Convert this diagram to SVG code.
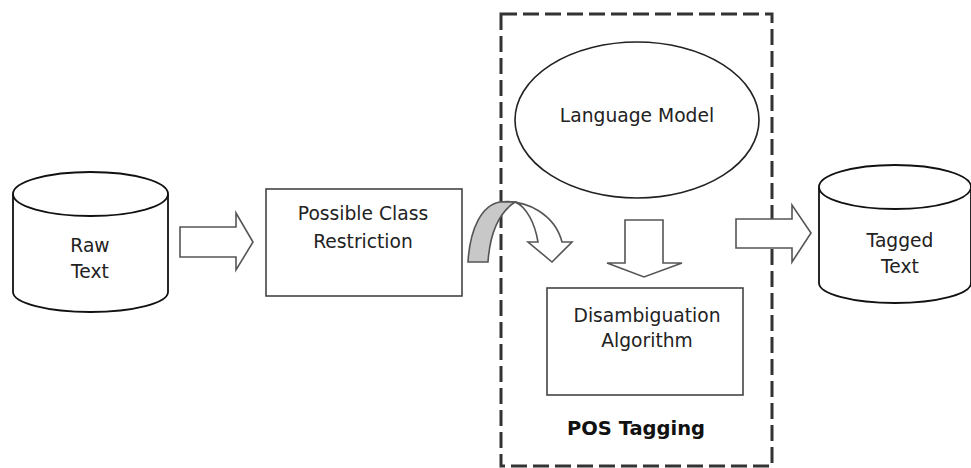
<svg xmlns="http://www.w3.org/2000/svg" width="971" height="468" viewBox="0 0 971 468">
  <style>
    .lbl { font-family: "DejaVu Sans", Verdana, sans-serif; font-size: 18.7px; fill: #222; text-anchor: middle; }
    .bold { font-weight: bold; font-size: 19.5px; fill: #111; }
    .box { fill: #fff; stroke: #444; stroke-width: 1.6; }
    .cyl { fill: #fff; stroke: #111; stroke-width: 1.8; }
    .blockarrow { fill: #fff; stroke: #555; stroke-width: 1.6; stroke-linejoin: miter; }
    .frame { fill: none; stroke: #333; stroke-width: 3; stroke-dasharray: 16 6; }
  </style>
  <rect width="971" height="468" fill="#fff"/>

  <!-- POS tagging stage boundary -->
  <g id="pos-tagging">
    <rect class="frame" x="501" y="14" width="271" height="452"/>
    <text class="lbl bold" x="636" y="435">POS Tagging</text>
  </g>

  <!-- raw input store -->
  <g id="raw-text">
    <path class="cyl" d="M13,194 L13,292 A77.5,20 0 0 0 168,292 L168,194"/>
    <ellipse class="cyl" cx="90.5" cy="194" rx="77.5" ry="22"/>
    <text class="lbl" x="90" y="252">Raw</text>
    <text class="lbl" x="90" y="278">Text</text>
  </g>

  <g id="possible-class-restriction">
    <rect class="box" x="266" y="189" width="196" height="107"/>
    <text class="lbl" x="363" y="220">Possible Class</text>
    <text class="lbl" x="363" y="248">Restriction</text>
  </g>

  <g id="language-model">
    <ellipse cx="637" cy="120" rx="122" ry="78" fill="#fff" stroke="#222" stroke-width="1.6"/>
    <text class="lbl" x="637" y="122">Language Model</text>
  </g>

  <g id="disambiguation-algorithm">
    <rect class="box" x="547" y="288" width="196" height="107"/>
    <text class="lbl" x="647" y="322">Disambiguation</text>
    <text class="lbl" x="647" y="347">Algorithm</text>
  </g>

  <!-- tagged output store -->
  <g id="tagged-text">
    <path class="cyl" d="M819,187 L819,283 A76,20 0 0 0 971,283 L971,187"/>
    <ellipse class="cyl" cx="895" cy="187" rx="76" ry="22"/>
    <text class="lbl" x="900" y="247">Tagged</text>
    <text class="lbl" x="900" y="273">Text</text>
  </g>

  <!-- block arrows between stages -->
  <g id="connectors">
    <path class="blockarrow" d="M180,227 L236,227 L236,213 L253,242 L236,270 L236,257 L180,257 Z"/>
    <path class="blockarrow" d="M500,202 C527,199 555,215 562,242 L572,242 L552,262 L528,242 L538,242 C535,224 527,207 515,202 Z"/>
    <path d="M468,262 C470,228 482,205 500,202 L515,202 C500,212 490,232 488,262 Z" fill="#c8c8c8" stroke="#555" stroke-width="1.6"/>
    <path class="blockarrow" d="M625,220 L663,220 L663,263 L682,263 L644,277 L607,263 L625,263 Z"/>
    <path class="blockarrow" d="M736,219 L792,219 L792,205 L811,233 L792,262 L792,248 L736,248 Z"/>
  </g>
</svg>
